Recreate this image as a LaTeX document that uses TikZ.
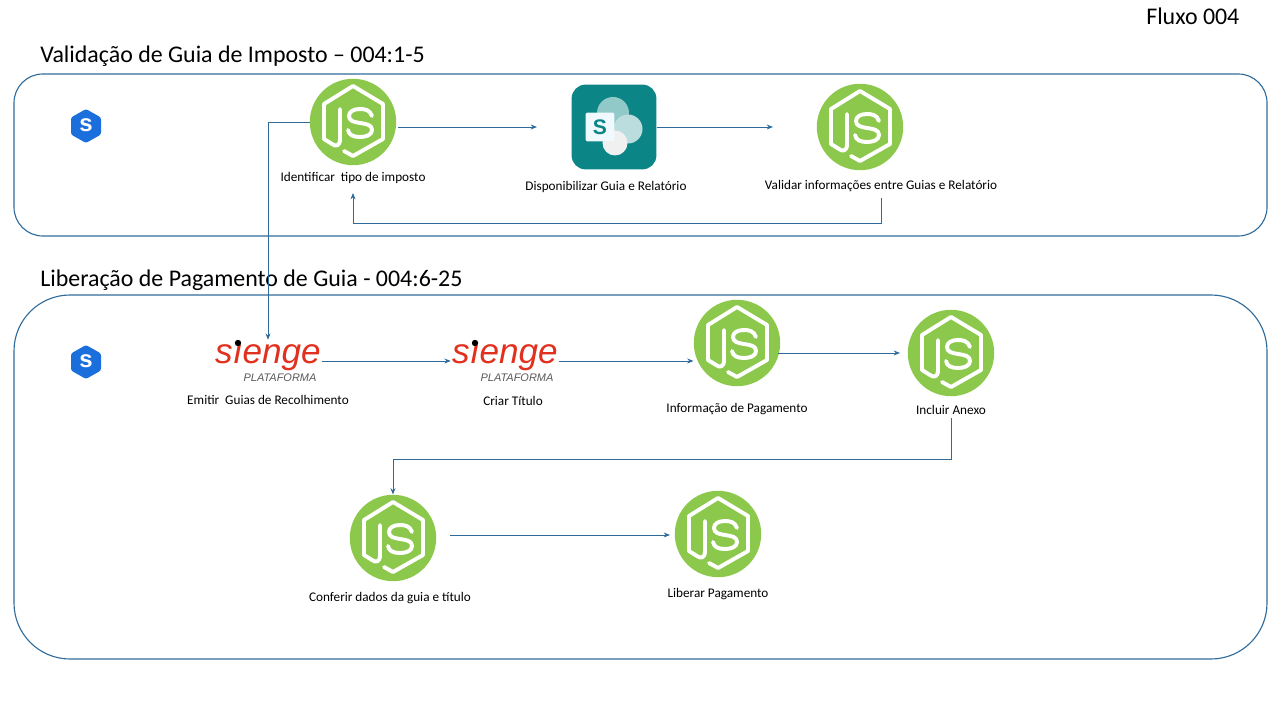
\documentclass[tikz,border=0pt]{standalone}
\usepackage{fontspec}
\setmainfont{Carlito}
\newfontfamily\logofont{Liberation Sans}
\usepackage{xcolor}
\usetikzlibrary{arrows.meta}

\definecolor{fluxoline}{HTML}{2F6B9A}
\definecolor{jsgreen}{HTML}{8CC84B}
\definecolor{sblue}{HTML}{1B6FDC}
\definecolor{spteal}{HTML}{0B8585}
\definecolor{siengered}{HTML}{E2301F}

\tikzset{
    frame/.style={draw=fluxoline, line width=0.8pt},
    flow/.style={draw=fluxoline, line width=0.6pt, -{Stealth[length=4.5pt,width=3.5pt]}},
    title/.style={anchor=west, font=\fontsize{17}{20}\selectfont, inner sep=0pt},
    label/.style={font=\fontsize{9.4}{11}\selectfont, inner sep=1pt},
    jscircle/.style={circle, fill=jsgreen, minimum size=2.16cm, inner sep=0pt},
    jsline/.style={draw=white, line width=2.8pt, line join=round, line cap=round},
    siengebox/.style={minimum width=2.7cm, minimum height=1.05cm, inner sep=0pt},
    jsmark/.pic={
        \draw[jsline] (-13,-13) -- (-13,17) .. controls (-13,24) and (-17,25) .. (-21,22) -- (-29,17) -- (-29,-18) -- (0,-36) -- (30,-18) -- (30,17) -- (0,34) -- (-9,29);
        \draw[jsline] (19,-6) .. controls (17,-12) and (12,-13) .. (7,-13) .. controls (0,-13) and (-4,-10) .. (-4,-6) .. controls (-4,-1) and (1,0) .. (7,1) .. controls (14,2) and (19,3) .. (19,8) .. controls (19,13) and (13,15) .. (7,15) .. controls (0,15) and (-4,13) .. (-5,8);
    },
    smark/.pic={
        \fill[sblue, rounded corners=1.5pt] (0,-17) -- (15,-8.5) -- (15,8.5) -- (0,17) -- (-15,8.5) -- (-15,-8.5) -- cycle;
    }
}

\newcommand{\jsicon}[3]{
    \node[jscircle] (#1) at (#2,#3) {};
    \pic at (#1) {jsmark};
}
\newcommand{\sicon}[3]{
    \pic at (#2,#3) {smark};
    \node[text=white, font=\logofont\bfseries\fontsize{17}{17}\selectfont, inner sep=0pt] (#1) at (#2,#3-1) {s};
}
\newcommand{\siengeicon}[3]{
    \node[siengebox] (#1) at (#2,#3) {};
    \node[text=siengered, font=\logofont\itshape\fontsize{25}{25}\selectfont, inner sep=0pt] (#1word) at (#2,#3-3) {sıenge};
    \fill (#2-30,#3-18) circle (3.2);
    \node[text=black!65, font=\logofont\itshape\fontsize{7.8}{8}\selectfont, inner sep=0pt] (#1sub) at (#2+12,#3+17) {PLATAFORMA};
}

\begin{document}
\begin{tikzpicture}[x=0.025cm, y=-0.025cm]
    \useasboundingbox (0,0) rectangle (1280,720);

    % Titulos
    \node[title] (fluxo) at (1146,16) {Fluxo 004};
    \node[title] (titleval) at (40,56) {Validação de Guia de Imposto – 004:1-5};
    \node[title] (titlelib) at (40,280) {Liberação de Pagamento de Guia - 004:6-25};

    % Quadros
    \draw[frame, rounded corners=0.72cm] (14,74) rectangle (1267,236);
    \draw[frame, rounded corners=1.4cm] (14,295) rectangle (1267,659);

    \sicon{sa}{86}{126}
    \sicon{sb}{86}{362}

    % Validacao
    \jsicon{idjs}{353}{122}
    \node[label] (idlabel) at (353,178) {Identificar\ \ tipo de imposto};

    \node[rounded corners=0.35cm, fill=spteal, minimum size=2.12cm, inner sep=0pt] (sp) at (614,127) {};
    \fill[spteal!45!white] (613,113) circle (16);
    \fill[spteal!28!white] (628,129) circle (14.5);
    \fill[gray!12] (615,143) circle (12.5);
    \node[fill=cyan!6, rounded corners=1pt, minimum size=0.72cm, inner sep=0pt, text=spteal, font=\logofont\bfseries\fontsize{15}{15}\selectfont] (sps) at (600,127) {S};
    \node[label] (splabel) at (606,187) {Disponibilizar Guia e Relatório};

    \jsicon{valjs}{860}{127}
    \node[label] (vallabel) at (881,186) {Validar informações entre Guias e Relatório};

    % Liberacao
    \siengeicon{emitir}{268}{361}
    \node[label] (emitirlabel) at (268,400) {Emitir\ \ Guias de Recolhimento};
    \siengeicon{titulo}{505}{361}
    \node[label] (titulolabel) at (513,401) {Criar Título};

    \jsicon{infojs}{737}{343}
    \node[label] (infolabel) at (737,409) {Informação de Pagamento};
    \jsicon{anexojs}{951}{353}
    \node[label] (anexolabel) at (951,410) {Incluir Anexo};
    \jsicon{confjs}{393}{538}
    \node[label] (conflabel) at (390,598) {Conferir dados da guia e título};
    \jsicon{libjs}{718}{534}
    \node[label] (liblabel) at (718,594) {Liberar Pagamento};

    % Pontas livres
    \coordinate (idout) at (398,127);
    \coordinate (spin) at (537,127);
    \coordinate (valin) at (773,127);
    \coordinate (valout) at (881,198);
    \coordinate (idin) at (353,193);
    \coordinate (anexoout) at (951,418);
    \coordinate (infoout) at (778,353);
    \coordinate (anexoin) at (900,353);
    \coordinate (confout) at (450,535);
    \coordinate (libin) at (670,535);

    % Conectores
    \draw[flow] (idjs.west) -| (emitir.north);
    \draw[flow] (idout) -- (spin);
    \draw[flow] (sp.east) -- (valin);
    \draw[flow] (valout) |- (353,223) -- (idin);
    \draw[flow] (emitir.east) -- (titulo.west);
    \draw[flow] (titulo.east) -- (infojs.west |- titulo.east);
    \draw[flow] (infoout) -- (anexoin);
    \draw[flow] (anexoout) |- (393,459) -- (confjs.north);
    \draw[flow] (confout) -- (libin);
\end{tikzpicture}
\end{document}
